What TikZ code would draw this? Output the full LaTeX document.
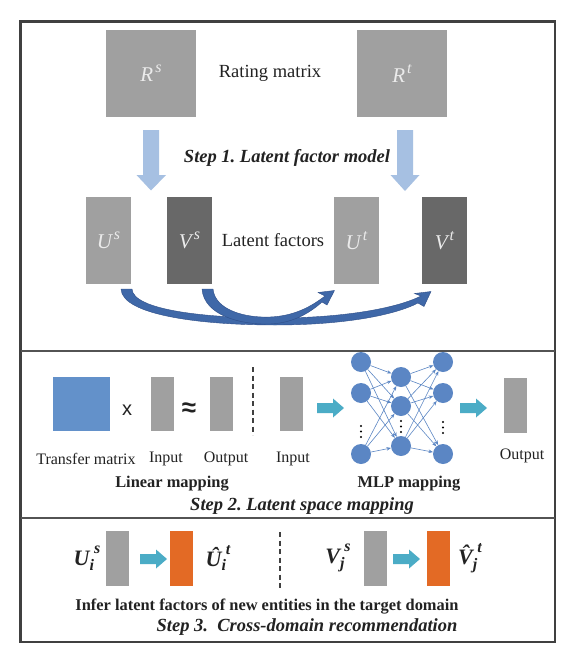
\documentclass[tikz,border=0pt]{standalone}
\usepackage{fontspec}
\setmainfont{Liberation Serif}
\newfontfamily\sansf{Liberation Sans}
\usetikzlibrary{arrows.meta}
\definecolor{lgray}{HTML}{A0A0A0}
\definecolor{dgray}{HTML}{686868}
\definecolor{lblue}{HTML}{A6C0E2}
\definecolor{cblue}{HTML}{3F68A8}
\definecolor{cbluedk}{HTML}{2E4E88}
\definecolor{tmblue}{HTML}{6391CA}
\definecolor{teal}{HTML}{4BACC6}
\definecolor{nblue}{HTML}{5B86C4}
\definecolor{orng}{HTML}{E36A25}
\definecolor{frame}{HTML}{404040}
\definecolor{txt}{HTML}{222222}
\frenchspacing
\newcommand\fszA{\fontsize{18.5}{22}\selectfont}
\newcommand\fszB{\fontsize{16}{19}\selectfont}
\newcommand\fszC{\fontsize{16.4}{19}\selectfont}
\newcommand\fszD{\fontsize{20}{24}\selectfont}
\newcommand\boxlab[2]{{\fontsize{21}{24}\selectfont\itshape #1\kern2pt\raisebox{0.45em}{\fontsize{16}{18}\selectfont #2}}}
\newcommand\mlab[3]{{\fontsize{22}{26}\selectfont\bfseries\itshape #1\raisebox{-0.22em}{\fontsize{16}{18}\selectfont #2}\raisebox{0.55em}{\fontsize{16}{18}\selectfont #3}}}
\begin{document}
\begin{tikzpicture}[x=1pt,y=-1pt,
  blk/.style={inner sep=0pt,outer sep=0pt,text=black!8},
  lbox/.style={blk,fill=lgray},
  dbox/.style={blk,fill=dgray},
  tall/.style={minimum width=45pt,minimum height=87pt},
  bar/.style={inner sep=0pt,outer sep=0pt,minimum width=23pt,minimum height=54pt},
  lab/.style={inner sep=0pt,text=txt},
  neuron/.style={circle,fill=nblue,inner sep=0pt,minimum size=20pt},
  mlpedge/.style={draw=nblue,line width=0.6pt,-{Stealth[length=4.5pt,width=3.5pt]}},
  sep/.style={draw=frame!90,line width=1.5pt},
  dashsep/.style={draw=frame,line width=1.3pt,dash pattern=on 5pt off 3.5pt},
  tarrow/.style={fill=teal},
  cfill/.style={fill=cblue,draw=cbluedk,line width=0.4pt}
]
\useasboundingbox (0,0) rectangle (583,661);
\fill[white] (0,0) rectangle (583,661);

% frame and separators
\draw[draw=frame,line width=2.5pt] (20.5,21.5) rectangle (555,642);
\coordinate (s1l) at (20.5,351); \coordinate (s1r) at (555,351);
\coordinate (s2l) at (20.5,518); \coordinate (s2r) at (555,518);
\draw[sep] (s1l) -- (s1r);
\draw[sep] (s2l) -- (s2r);

% ---------- Step 1 ----------
\node[lbox,minimum width=90pt,minimum height=87pt] (Rs) at (151,73.5) {\boxlab{R}{s}};
\node[lbox,minimum width=90pt,minimum height=87pt] (Rt) at (402,73.5) {\boxlab{R}{t}};
\node[lab] (rm) at (270,73) {\fszA Rating matrix};

\fill[lblue] (143,130) -- (159,130) -- (159,175) -- (166,175) -- (151,190.5) -- (136.5,175) -- (143,175) -- cycle;
\fill[lblue] (397,130) -- (413,130) -- (413,175) -- (419.5,175) -- (405,191) -- (390.5,175) -- (397,175) -- cycle;
\node[lab] (st1) at (287,158) {\fszA\bfseries\itshape Step 1. Latent factor model};

\node[lbox,tall] (Us) at (108.5,240.5) {\boxlab{U}{s}};
\node[dbox,tall] (Vs) at (189.5,240.5) {\boxlab{V}{s}};
\node[lbox,tall] (Ut) at (356.5,240.5) {\boxlab{U}{t}};
\node[dbox,tall] (Vt) at (444.5,240.5) {\boxlab{V}{t}};
\node[lab] (lf) at (273,240) {\fszA Latent factors};

% curved arrows
\path[cfill]
  (121,289) .. controls (122,315) and (200,325) .. (275,325)
  .. controls (345,325) and (395,315) .. (418,303)
  -- (424,306.5) -- (431,291.5) -- (414.5,293.5) -- (421,296)
  .. controls (395,309) and (340,318) .. (275,318)
  .. controls (205,318) and (133,310) .. (132,289) -- cycle;
\path[cfill]
  (202,289) .. controls (204,315) and (240,325) .. (270,324)
  .. controls (295,323) and (312,311) .. (322,302)
  -- (327,305) -- (334.5,290.5) -- (318,292.5) -- (325,296)
  .. controls (312,306) and (295,316) .. (270,317)
  .. controls (245,318) and (215,310) .. (213,289) -- cycle;

% ---------- Step 2 ----------
\node[blk,fill=tmblue,minimum width=57pt,minimum height=54pt] (TM) at (81.5,404) {};
\node[lab] (times) at (127,410) {\sansf\fszD x};
\node[bar,fill=lgray] (In1) at (162.5,404) {};
\node[lab] (approx) at (189,410) {\sansf\bfseries\fontsize{26}{28}\selectfont ≈};
\node[bar,fill=lgray] (Out1) at (221.5,404) {};
\coordinate (d1a) at (253,367); \coordinate (d1b) at (253,435);
\draw[dashsep] (d1a) -- (d1b);
\node[bar,fill=lgray] (In2) at (291.5,404) {};

\node[lab] (ltm) at (86,459) {\fszB Transfer matrix};
\node[lab] (lin1) at (166,459) {\fszB Input};
\node[lab] (lout1) at (226,459) {\fszB Output};
\node[lab] (lin2) at (293,459) {\fszB Input};

\fill[tarrow] (317,403) -- (333,403) -- (333,398.5) -- (344,408) -- (333,417.5) -- (333,413) -- (317,413) -- cycle;
\fill[tarrow] (460,403) -- (476,403) -- (476,398.5) -- (487,408) -- (476,417.5) -- (476,413) -- (460,413) -- cycle;

% MLP
\node[neuron] (n11) at (361,362) {};
\node[neuron] (n12) at (361,393) {};
\node[neuron] (n13) at (361,454) {};
\node[neuron] (n21) at (401,377) {};
\node[neuron] (n22) at (401,406) {};
\node[neuron] (n23) at (401,446) {};
\node[neuron] (n31) at (443,362) {};
\node[neuron] (n32) at (443,393) {};
\node[neuron] (n33) at (443,454) {};
\foreach \a in {1,2,3}{\foreach \b in {1,2,3}{
  \draw[mlpedge] (n1\a) -- (n2\b);
  \draw[mlpedge] (n2\a) -- (n3\b);
}}
\foreach \y in {426,431.5,437}{\fill (361,\y) circle (1.2pt);}
\foreach \y in {421,426.5,432}{\fill (401,\y) circle (1.2pt);}
\foreach \y in {422,427.5,433}{\fill (443,\y) circle (1.2pt);}

\node[bar,fill=lgray,minimum height=55pt] (Out2) at (515.5,405.5) {};
\node[lab] (lout2) at (522,456) {\fszB Output};

\node[lab] (linmap) at (172,484) {\fszC\bfseries Linear mapping};
\node[lab] (mlpmap) at (409,484) {\fszC\bfseries MLP mapping};
\node[lab] (st2) at (302,506) {\fszA\bfseries\itshape Step 2. Latent space mapping};

% ---------- Step 3 ----------
\node[lab] (ui) at (87,558) {\mlab{U}{i}{s}};
\node[bar,fill=lgray,minimum height=55pt] (g1) at (117.5,558.5) {};
\fill[tarrow] (140,554) -- (156,554) -- (156,549.5) -- (167,559) -- (156,568.5) -- (156,564) -- (140,564) -- cycle;
\node[bar,fill=orng,minimum height=55pt] (o1) at (181.5,558.5) {};
\node[lab] (uhat) at (218,558) {\mlab{\^U}{i}{t}};
\coordinate (d2a) at (280,532); \coordinate (d2b) at (280,588);
\draw[dashsep] (d2a) -- (d2b);
\node[lab] (vj) at (338,558) {\mlab{V}{j}{s}};
\node[bar,fill=lgray,minimum height=55pt] (g2) at (375.5,558.5) {};
\fill[tarrow] (393,554) -- (409,554) -- (409,549.5) -- (420,559) -- (409,568.5) -- (409,564) -- (393,564) -- cycle;
\node[bar,fill=orng,minimum height=55pt] (o2) at (438,558.5) {};
\node[lab] (vhat) at (470,558) {\mlab{\^V}{j}{t}};

\node[lab] (infer) at (267,607) {\fszC\bfseries Infer latent factors of new entities in the target domain};
\node[lab] (st3) at (307,627) {\fszA\bfseries\itshape Step 3.\hspace{0.5em}Cross-domain recommendation};
\end{tikzpicture}
\end{document}
